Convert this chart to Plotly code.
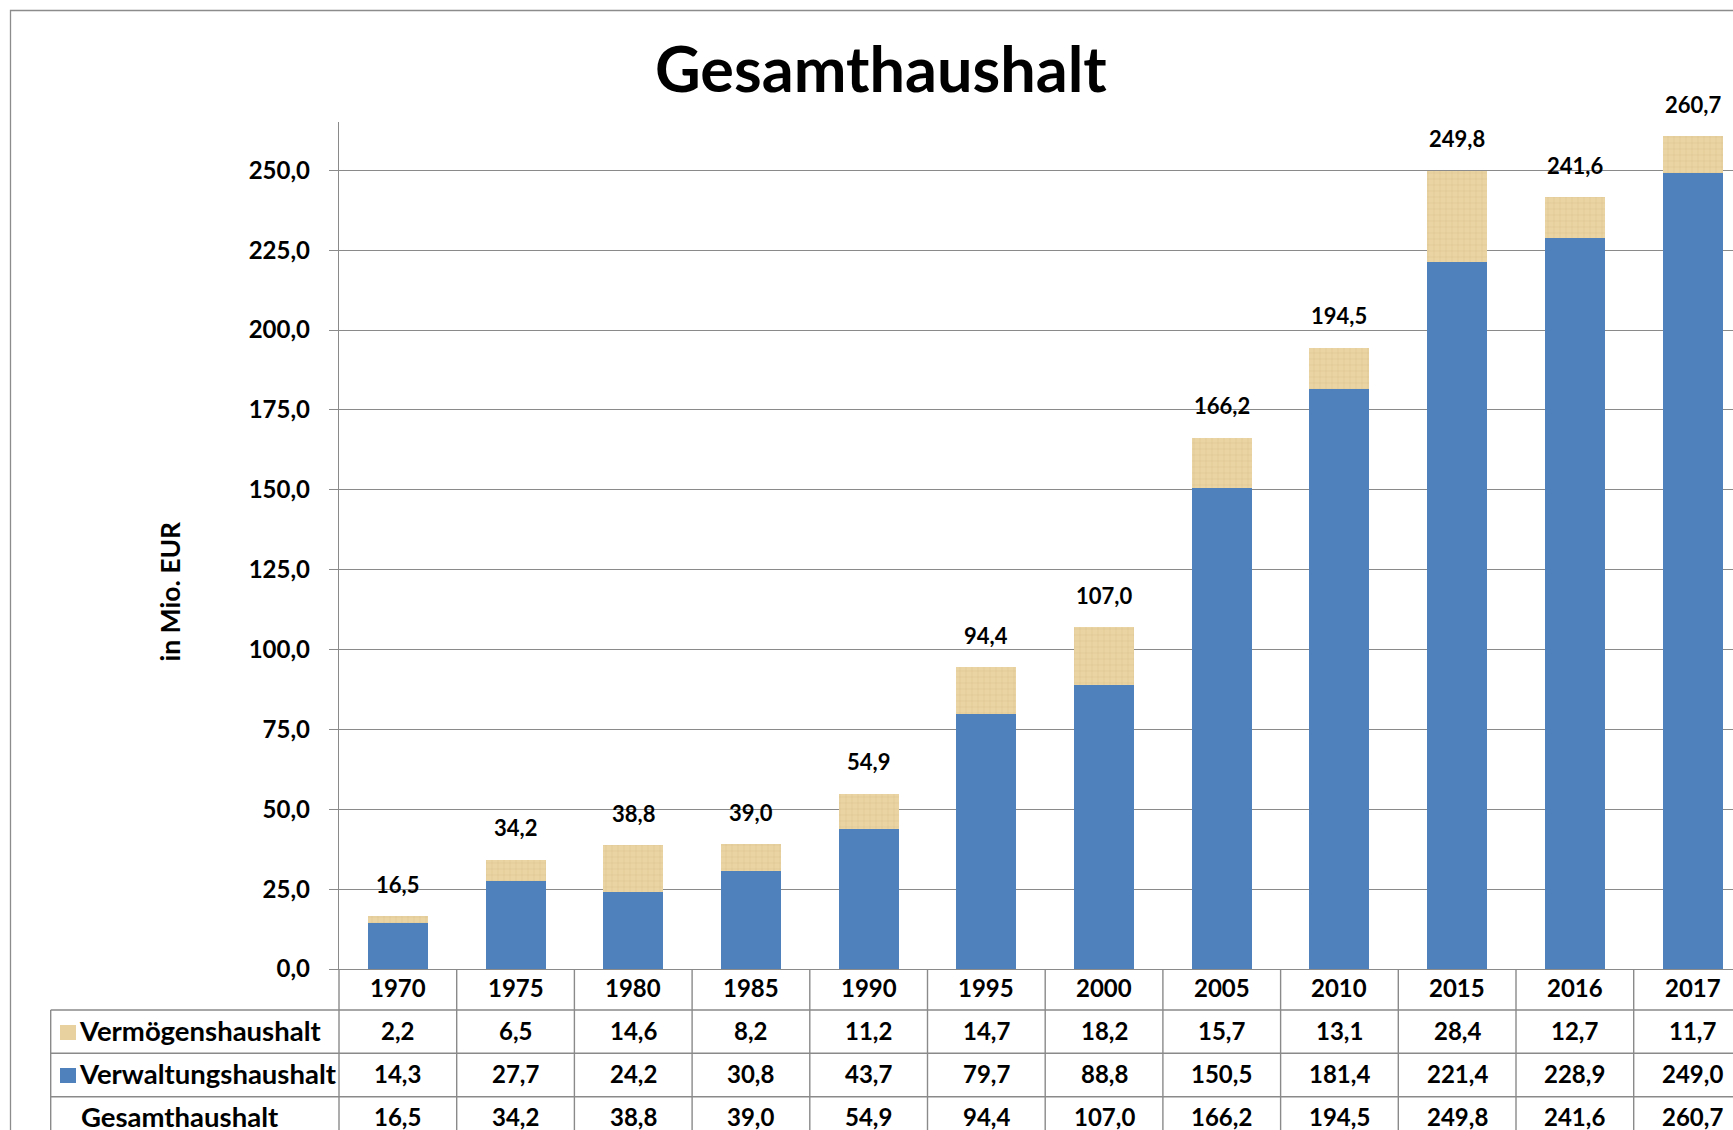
import plotly.graph_objects as go

# ---------------- data ----------------
years = ["1970", "1975", "1980", "1985", "1990", "1995", "2000", "2005",
         "2010", "2015", "2016", "2017"]
vermoegen = [2.2, 6.5, 14.6, 8.2, 11.2, 14.7, 18.2, 15.7, 13.1, 28.4, 12.7, 11.7]
verwaltung = [14.3, 27.7, 24.2, 30.8, 43.7, 79.7, 88.8, 150.5, 181.4, 221.4, 228.9, 249.0]
gesamt = [16.5, 34.2, 38.8, 39.0, 54.9, 94.4, 107.0, 166.2, 194.5, 249.8, 241.6, 260.7]
row_labels = ["Vermögenshaushalt", "Verwaltungshaushalt", "Gesamthaushalt"]
title_text = "Gesamthaushalt"
ytitle_text = "in Mio. EUR"

# ---------------- layout geometry ----------------
W, H = 1733, 1130
ML, MR, MT, MB = 339, 0, 122, 161
PW, PH = W - ML - MR, H - MT - MB
CAT_W = 117.7  # px per category
Y_MAX = 265.1

FONT = "Lato"
BLUE = "#4F81BD"
BEIGE = "#E8D19F"
GRID = "#8a8a8a"


def px2x(px):
    return (px - ML) / PW


def py2y(py):
    return (H - MB - py) / PH


def fmt(v):
    return f"{v:.1f}".replace(".", ",")


fig = go.Figure()
fig.add_bar(x=years, y=verwaltung, name=row_labels[1], width=0.51,
            marker=dict(color=BLUE, line=dict(width=0)))
fig.add_bar(x=years, y=vermoegen, name=row_labels[0], width=0.51,
            marker=dict(color=BEIGE, line=dict(width=0),
                        pattern=dict(shape="+", fgcolor="#D5BA84", bgcolor="#EAD4A4",
                                     size=6, solidity=0.22)))

annotations = []
# totals above bars (category axis: annotation x = category index)
for i, tot in enumerate(gesamt):
    annotations.append(dict(x=i, y=tot, xref="x", yref="y", text=fmt(tot),
                            showarrow=False, yanchor="middle", yshift=32,
                            font=dict(family=FONT, size=22, color="black", weight="bold")))

# title
annotations.append(dict(x=px2x(881), y=py2y(67.5), xref="paper", yref="paper",
                        text=title_text, showarrow=False, xanchor="center", yanchor="middle",
                        font=dict(family=FONT, size=63, color="black", weight="bold")))
# y title
annotations.append(dict(x=px2x(169), y=py2y(591.5), xref="paper", yref="paper",
                        text=ytitle_text, showarrow=False, textangle=-90,
                        xanchor="center", yanchor="middle",
                        font=dict(family=FONT, size=26.5, color="black", weight="bold")))

# data table
row_centers = [987.5, 1030, 1073.5, 1116.5]
tbl_font = dict(family=FONT, size=24, color="black", weight="bold")
for i, yr in enumerate(years):
    annotations.append(dict(x=i, y=py2y(row_centers[0]), xref="x", yref="paper",
                            text=yr, showarrow=False, yanchor="middle", font=tbl_font))
for r, series in enumerate([vermoegen, verwaltung, gesamt]):
    for i, v in enumerate(series):
        annotations.append(dict(x=i, y=py2y(row_centers[r + 1]), xref="x", yref="paper",
                                text=fmt(v), showarrow=False, yanchor="middle", font=tbl_font))
label_x = [77, 77, 79]
for r, lab in enumerate(row_labels):
    annotations.append(dict(x=px2x(label_x[r]), y=py2y(row_centers[r + 1]), xref="paper",
                            yref="paper", text=lab, showarrow=False, xanchor="left",
                            yanchor="middle",
                            font=dict(family=FONT, size=27.5, color="black", weight="bold")))

shapes = []
line_style = dict(color=GRID, width=1.4)
# outer chart border
shapes.append(dict(type="rect", xref="paper", yref="paper", x0=px2x(10.5), y0=py2y(10.5),
                   x1=px2x(1760), y1=py2y(1160), line=dict(color="#8c8c8c", width=1.3),
                   layer="below"))
# horizontal table lines
for py in [1010, 1053.3, 1096.7]:
    shapes.append(dict(type="line", xref="paper", yref="paper", x0=px2x(50.7), x1=1,
                       y0=py2y(py), y1=py2y(py), line=line_style))
# left table border
shapes.append(dict(type="line", xref="paper", yref="paper", x0=px2x(50.7), x1=px2x(50.7),
                   y0=py2y(1010), y1=py2y(1140), line=line_style))
# y axis extended through table
shapes.append(dict(type="line", xref="paper", yref="paper", x0=0, x1=0,
                   y0=0, y1=py2y(1140), line=line_style))
# vertical dividers between categories
for i in range(len(years) - 1):
    xp = px2x(ML + (i + 1) * CAT_W)
    shapes.append(dict(type="line", xref="paper", yref="paper", x0=xp, x1=xp,
                       y0=0, y1=py2y(1140), line=line_style))
# legend keys
shapes.append(dict(type="rect", xref="paper", yref="paper", x0=px2x(60), x1=px2x(76),
                   y0=py2y(1025), y1=py2y(1040), fillcolor=BEIGE, line=dict(width=0)))
shapes.append(dict(type="rect", xref="paper", yref="paper", x0=px2x(60), x1=px2x(76),
                   y0=py2y(1068), y1=py2y(1083), fillcolor=BLUE, line=dict(width=0)))

fig.update_layout(
    width=W, height=H, autosize=False,
    margin=dict(l=ML, r=MR, t=MT, b=MB, pad=0),
    barmode="stack", bargap=0.49,
    showlegend=False,
    separators=",.",
    paper_bgcolor="white", plot_bgcolor="white",
    annotations=annotations, shapes=shapes,
    xaxis=dict(type="category", range=[-0.5, -0.5 + PW / CAT_W], showticklabels=False,
               showgrid=False, showline=True, linecolor=GRID, linewidth=1.4,
               ticks="", zeroline=False, automargin=False, fixedrange=True),
    yaxis=dict(range=[0, Y_MAX], dtick=25, tick0=0, tickformat=".1f",
               showgrid=True, gridcolor=GRID, gridwidth=1.4,
               showline=True, linecolor=GRID, linewidth=1.4,
               ticks="outside", ticklen=9, tickcolor=GRID, tickwidth=1.4,
               ticklabelstandoff=14, zeroline=False, automargin=False,
               tickfont=dict(family=FONT, size=24, color="black", weight="bold")),
)

fig.write_html(
    "out.html",
    config={"displayModeBar": False},
    post_script="document.body.style.margin='0';document.body.style.overflow='hidden';",
)
